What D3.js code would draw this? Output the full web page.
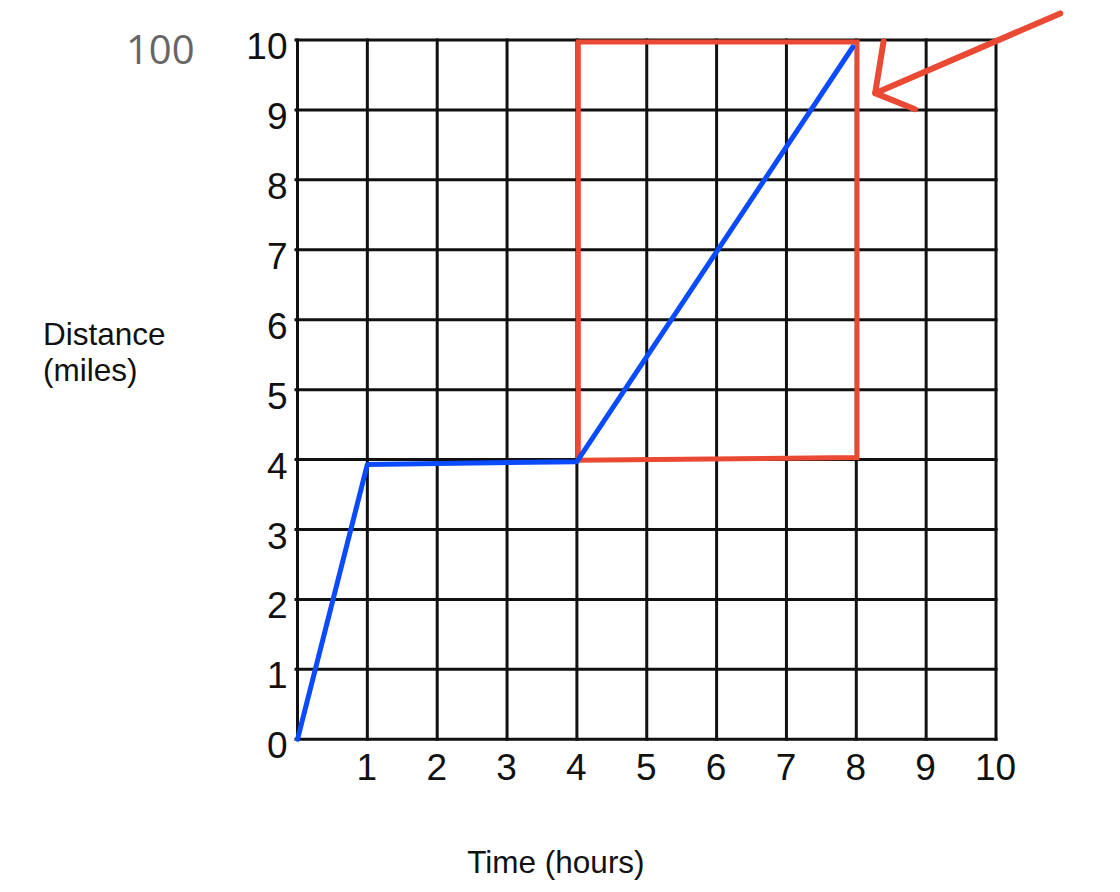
<!DOCTYPE html>
<html lang="en">
<head>
    <meta charset="UTF-8">
    <title>Distance vs Time</title>
    <style>
        body { margin: 0; background: #fff; }
        svg { display: block; }
        .tick-label { font-family: "Liberation Sans", Arial, sans-serif; font-size: 37px; fill: #111; }
        .axis-title { font-family: "Liberation Sans", Arial, sans-serif; font-size: 31.5px; fill: #111; }
    </style>
</head>
<body>
    <div id="wrapper"></div>
    <script src="https://cdnjs.cloudflare.com/ajax/libs/d3/7.8.5/d3.min.js"></script>
    <script>
        // data
        const xTicks = [1, 2, 3, 4, 5, 6, 7, 8, 9, 10];
        const yTicks = [0, 1, 2, 3, 4, 5, 6, 7, 8, 9, 10];
        const gridValues = [0, 1, 2, 3, 4, 5, 6, 7, 8, 9, 10];
        const journey = [[0, 0], [1, 3.93], [4, 3.97], [7.95, 9.9]];
        const highlightBox = [[4.02, 9.97], [8.01, 9.97], [8.01, 4.03], [4.02, 3.99]];
        const arrowShaft = [[10.92, 10.38], [8.27, 9.24]];
        const arrowHead = [[8.39, 9.98], [8.27, 9.24], [8.84, 9.01]];
        const yTitleLines = ["Distance", "(miles)"];
        const xTitle = "Time (hours)";
        const cornerNote = "100";

        const dimensions = {
            width: 1120,
            height: 892,
            margin: { top: 40, right: 124, bottom: 152.7, left: 297.5 },
        };
        dimensions.boundedWidth = dimensions.width - dimensions.margin.left - dimensions.margin.right;
        dimensions.boundedHeight = dimensions.height - dimensions.margin.top - dimensions.margin.bottom;

        const wrapper = d3.select("#wrapper")
            .append("svg")
            .attr("width", dimensions.width)
            .attr("height", dimensions.height);

        const bounds = wrapper.append("g")
            .attr("transform", `translate(${dimensions.margin.left},${dimensions.margin.top})`);

        const xScale = d3.scaleLinear().domain([0, 10]).range([0, dimensions.boundedWidth]);
        const yScale = d3.scaleLinear().domain([0, 10]).range([dimensions.boundedHeight, 0]);

        // grid
        const grid = bounds.append("g").attr("stroke", "#111").attr("stroke-width", 3);
        grid.selectAll(".h")
            .data(gridValues)
            .join("line")
            .attr("x1", -3)
            .attr("x2", dimensions.boundedWidth + 1.5)
            .attr("y1", d => yScale(d))
            .attr("y2", d => yScale(d));
        grid.selectAll(".v")
            .data(gridValues)
            .join("line")
            .attr("x1", d => xScale(d))
            .attr("x2", d => xScale(d))
            .attr("y1", -1.5)
            .attr("y2", dimensions.boundedHeight + 1.5);

        // axes (labels only)
        const yAxis = bounds.append("g")
            .call(d3.axisLeft(yScale).tickValues(yTicks).tickSize(0).tickPadding(10));
        const xAxis = bounds.append("g")
            .attr("transform", `translate(0,${dimensions.boundedHeight})`)
            .call(d3.axisBottom(xScale).tickValues(xTicks).tickSize(0).tickPadding(0));
        [yAxis, xAxis].forEach(ax => {
            ax.select(".domain").remove();
            ax.selectAll("text").attr("class", "tick-label").attr("fill", null);
            ax.attr("font-size", null).attr("font-family", null);
        });
        yAxis.selectAll("text").attr("dy", "0.5em");
        xAxis.selectAll("text").attr("y", 41).attr("dy", 0).attr("x", -1);

        // red highlight box
        const lineGenerator = d3.line()
            .x(d => xScale(d[0]))
            .y(d => yScale(d[1]));

        bounds.append("path")
            .attr("d", lineGenerator(highlightBox) + "Z")
            .attr("fill", "none")
            .attr("stroke", "#ea4a34")
            .attr("stroke-width", 5)
            .attr("stroke-linejoin", "miter");

        // journey line
        bounds.append("path")
            .attr("d", lineGenerator(journey))
            .attr("fill", "none")
            .attr("stroke", "#0a4bff")
            .attr("stroke-width", 5)
            .attr("stroke-linejoin", "round")
            .attr("stroke-linecap", "round");

        // arrow pointing at the end of the line
        [arrowShaft, arrowHead].forEach(pts => {
            bounds.append("path")
                .attr("d", lineGenerator(pts))
                .attr("fill", "none")
                .attr("stroke", "#ea4a34")
                .attr("stroke-width", 6)
                .attr("stroke-linecap", "round")
                .attr("stroke-linejoin", "round");
        });

        // axis titles
        wrapper.selectAll(".y-title")
            .data(yTitleLines)
            .join("text")
            .attr("class", "axis-title y-title")
            .attr("x", 43)
            .attr("y", (d, i) => 345 + i * 36)
            .text(d => d);

        wrapper.append("text")
            .attr("class", "axis-title")
            .attr("x", dimensions.margin.left + xScale(3.7))
            .attr("y", 873)
            .attr("text-anchor", "middle")
            .text(xTitle);

        // stray grey note in the corner
        wrapper.append("text")
            .attr("x", 126)
            .attr("y", 64)
            .attr("fill", "#666")
            .style("font-family", "'Open Sans', sans-serif")
            .style("font-size", "40px")
            .text(cornerNote);
    </script>
</body>
</html>
